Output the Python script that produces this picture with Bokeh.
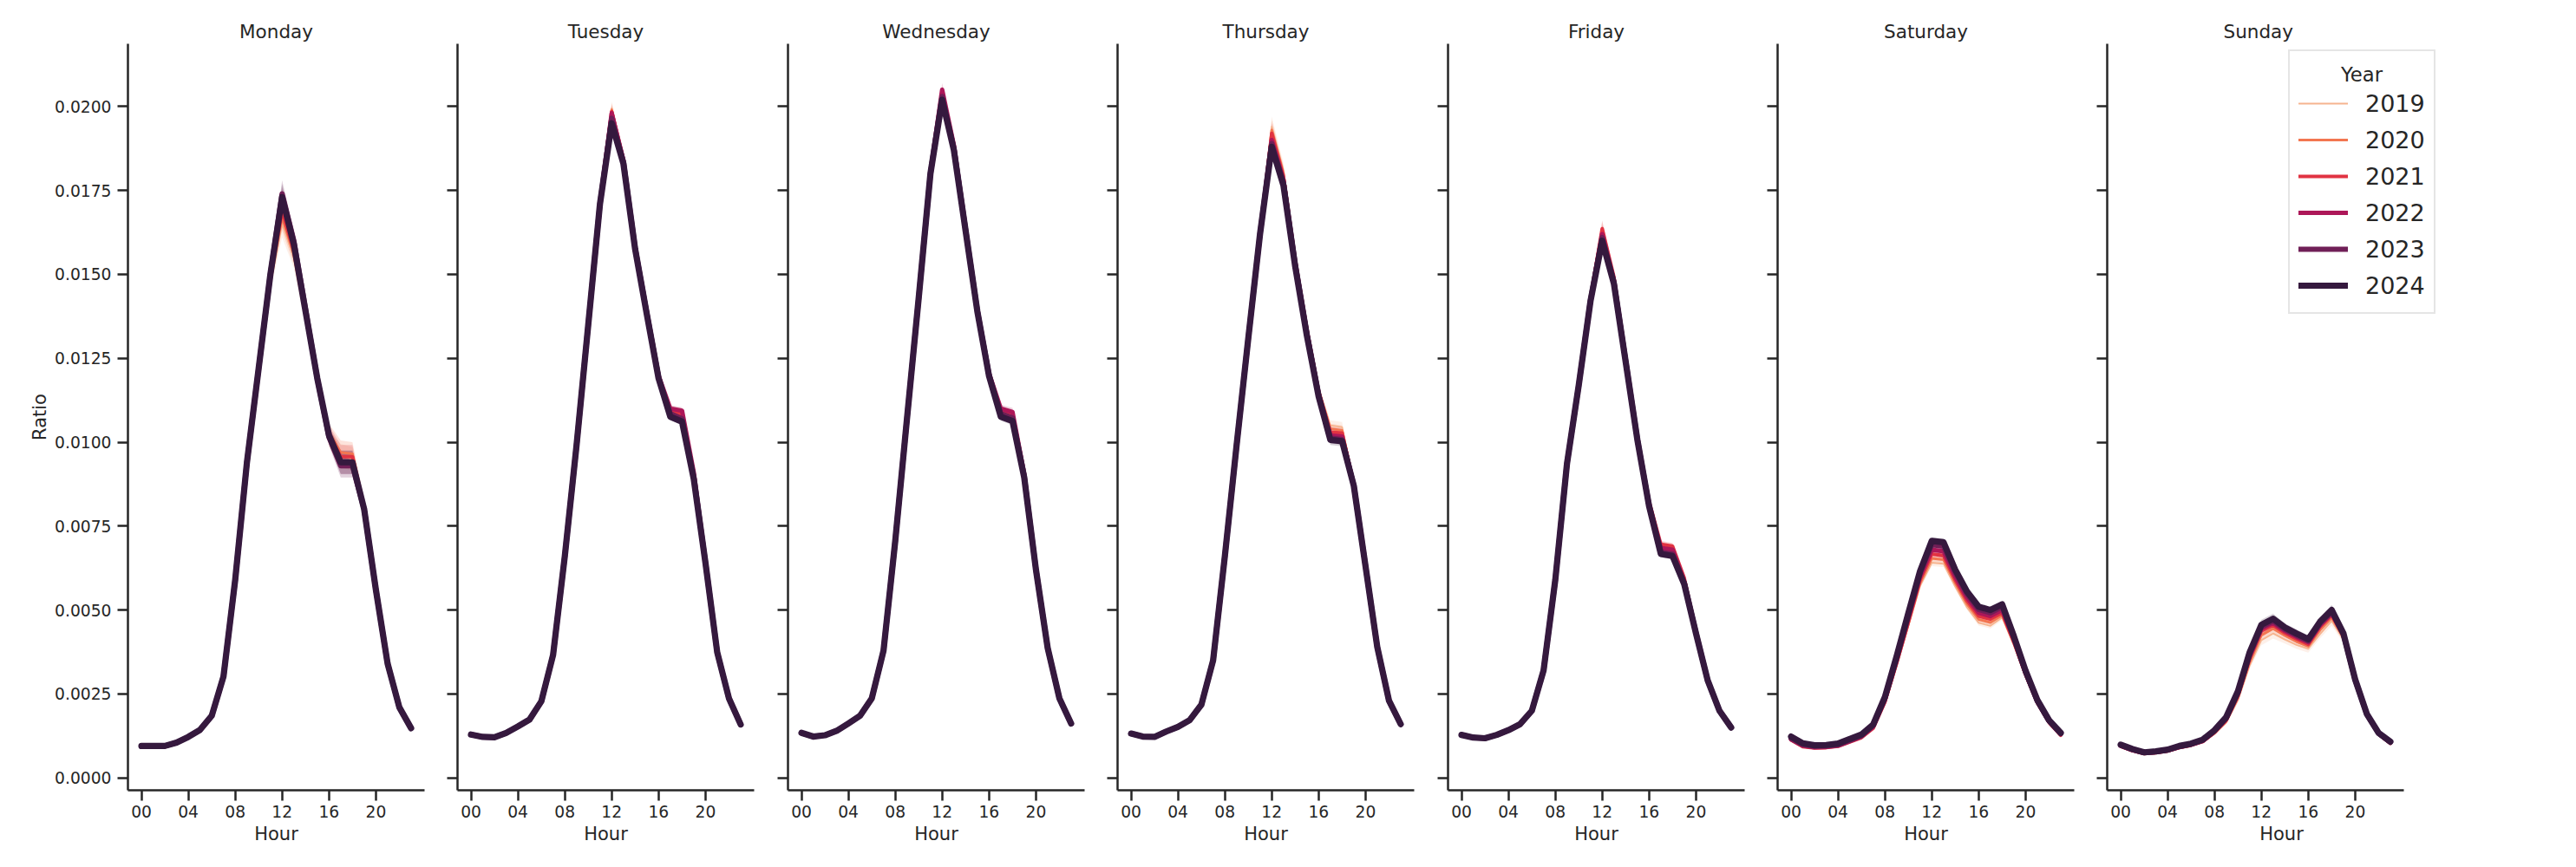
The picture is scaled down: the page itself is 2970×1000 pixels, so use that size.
from bokeh.plotting import figure
from bokeh.layouts import row
from bokeh.models import Range1d, FixedTicker, NumeralTickFormatter, CustomJSTickFormatter, Label
from bokeh.embed import file_html
from bokeh.resources import INLINE

DAYS = ["Monday", "Tuesday", "Wednesday", "Thursday", "Friday", "Saturday", "Sunday"]
YEARS = ["2019", "2020", "2021", "2022", "2023", "2024"]
HOURS = list(range(24))
HOUR_TICKS = [0, 4, 8, 12, 16, 20]
HOUR_LABELS = ["00", "04", "08", "12", "16", "20"]
RATIO_TICKS = [0.0, 0.0025, 0.005, 0.0075, 0.01, 0.0125, 0.015, 0.0175, 0.02]
LEGEND_TITLE = "Year"

# ---------------- Monday ----------------
mon_2019 = [0.00095,0.00095,0.00095,0.00105,0.00122,0.00143,0.00184,0.00298,0.00575,0.00920,0.01200,0.01470,0.01650,0.01550,0.01370,0.01180,0.01010,0.00960,0.00950,0.00805,0.00565,0.00342,0.00210,0.00148]
mon_2020 = [0.00094,0.00094,0.00094,0.00104,0.00121,0.00142,0.00183,0.00297,0.00578,0.00925,0.01205,0.01480,0.01670,0.01560,0.01375,0.01185,0.01030,0.00970,0.00965,0.00810,0.00565,0.00342,0.00210,0.00147]
mon_2021 = [0.00093,0.00093,0.00093,0.00103,0.00120,0.00141,0.00183,0.00298,0.00580,0.00930,0.01210,0.01490,0.01690,0.01570,0.01380,0.01185,0.01025,0.00957,0.00957,0.00805,0.00560,0.00340,0.00208,0.00145]
mon_2022 = [0.00094,0.00094,0.00094,0.00104,0.00121,0.00142,0.00184,0.00300,0.00585,0.00935,0.01215,0.01495,0.01720,0.01590,0.01390,0.01190,0.01020,0.00940,0.00940,0.00800,0.00560,0.00340,0.00210,0.00147]
mon_2023 = [0.00095,0.00095,0.00095,0.00105,0.00122,0.00143,0.00185,0.00302,0.00590,0.00940,0.01220,0.01500,0.01740,0.01600,0.01395,0.01190,0.01015,0.00930,0.00930,0.00800,0.00560,0.00340,0.00210,0.00148]
mon_2024 = [0.00095,0.00095,0.00095,0.00105,0.00122,0.00143,0.00185,0.00302,0.00590,0.00940,0.01220,0.01500,0.01730,0.01590,0.01390,0.01190,0.01020,0.00940,0.00940,0.00800,0.00560,0.00340,0.00210,0.00148]
mon_ci = [0.00002,0.00002,0.00002,0.00002,0.00002,0.00003,0.00004,0.00006,0.00010,0.00012,0.00015,0.00020,0.00040,0.00030,0.00025,0.00020,0.00025,0.00035,0.00035,0.00020,0.00010,0.00006,0.00004,0.00003]

# ---------------- Tuesday ----------------
tue_2019 = [0.00128,0.00121,0.00120,0.00134,0.00155,0.00180,0.00232,0.00366,0.00655,0.00985,0.01350,0.01715,0.01995,0.01850,0.01590,0.01395,0.01205,0.01100,0.01090,0.00905,0.00645,0.00376,0.00238,0.00160]
tue_2020 = [0.00128,0.00121,0.00120,0.00134,0.00154,0.00178,0.00230,0.00365,0.00656,0.00986,0.01350,0.01712,0.01990,0.01845,0.01588,0.01392,0.01200,0.01095,0.01085,0.00900,0.00643,0.00375,0.00238,0.00160]
tue_2021 = [0.00129,0.00122,0.00121,0.00134,0.00154,0.00176,0.00229,0.00366,0.00658,0.00988,0.01350,0.01712,0.01985,0.01842,0.01585,0.01390,0.01198,0.01092,0.01082,0.00900,0.00642,0.00375,0.00237,0.00159]
tue_2022 = [0.00129,0.00122,0.00121,0.00134,0.00153,0.00175,0.00229,0.00366,0.00660,0.00990,0.01352,0.01712,0.01980,0.01840,0.01582,0.01388,0.01198,0.01100,0.01094,0.00910,0.00645,0.00376,0.00238,0.00160]
tue_2023 = [0.00129,0.00122,0.00121,0.00134,0.00153,0.00174,0.00228,0.00366,0.00660,0.00990,0.01350,0.01710,0.01965,0.01835,0.01578,0.01383,0.01193,0.01085,0.01070,0.00895,0.00641,0.00374,0.00237,0.00159]
tue_2024 = [0.00129,0.00122,0.00121,0.00134,0.00153,0.00174,0.00228,0.00366,0.00660,0.00990,0.01350,0.01710,0.01950,0.01830,0.01575,0.01380,0.01190,0.01076,0.01061,0.00890,0.00640,0.00374,0.00237,0.00159]
tue_ci = [0.00002,0.00002,0.00002,0.00002,0.00003,0.00004,0.00004,0.00005,0.00006,0.00008,0.00008,0.00010,0.00020,0.00012,0.00008,0.00008,0.00008,0.00010,0.00010,0.00006,0.00004,0.00003,0.00002,0.00002]

# ---------------- Wednesday ----------------
wed_2019 = [0.00133,0.00122,0.00126,0.00140,0.00163,0.00188,0.00240,0.00380,0.00703,0.01068,0.01430,0.01802,0.02040,0.01885,0.01640,0.01398,0.01205,0.01090,0.01080,0.00902,0.00624,0.00388,0.00238,0.00162]
wed_2020 = [0.00133,0.00122,0.00126,0.00140,0.00163,0.00187,0.00239,0.00380,0.00704,0.01069,0.01430,0.01802,0.02040,0.01882,0.01638,0.01396,0.01203,0.01090,0.01080,0.00900,0.00623,0.00388,0.00238,0.00162]
wed_2021 = [0.00134,0.00123,0.00127,0.00140,0.00163,0.00186,0.00238,0.00380,0.00705,0.01070,0.01430,0.01802,0.02040,0.01880,0.01636,0.01395,0.01202,0.01090,0.01080,0.00900,0.00622,0.00388,0.00238,0.00162]
wed_2022 = [0.00134,0.00123,0.00127,0.00140,0.00162,0.00186,0.00238,0.00380,0.00706,0.01070,0.01432,0.01805,0.02050,0.01885,0.01638,0.01396,0.01205,0.01100,0.01090,0.00905,0.00624,0.00388,0.00238,0.00162]
wed_2023 = [0.00134,0.00123,0.00127,0.00140,0.00162,0.00185,0.00237,0.00379,0.00706,0.01070,0.01430,0.01800,0.02030,0.01875,0.01633,0.01392,0.01200,0.01085,0.01072,0.00898,0.00621,0.00387,0.00237,0.00162]
wed_2024 = [0.00134,0.00123,0.00127,0.00140,0.00162,0.00185,0.00237,0.00379,0.00706,0.01070,0.01430,0.01800,0.02020,0.01870,0.01630,0.01390,0.01197,0.01076,0.01063,0.00895,0.00620,0.00387,0.00237,0.00162]
wed_ci = [0.00002,0.00002,0.00002,0.00002,0.00003,0.00004,0.00004,0.00005,0.00006,0.00008,0.00008,0.00010,0.00020,0.00012,0.00008,0.00008,0.00008,0.00012,0.00012,0.00006,0.00004,0.00003,0.00002,0.00002]

# ---------------- Thursday ----------------
thu_2019 = [0.00131,0.00122,0.00121,0.00137,0.00152,0.00173,0.00220,0.00348,0.00652,0.00982,0.01305,0.01625,0.01940,0.01810,0.01560,0.01350,0.01160,0.01050,0.01045,0.00880,0.00635,0.00392,0.00232,0.00161]
thu_2020 = [0.00131,0.00122,0.00121,0.00137,0.00152,0.00173,0.00219,0.00349,0.00654,0.00984,0.01306,0.01624,0.01930,0.01800,0.01550,0.01342,0.01155,0.01040,0.01035,0.00878,0.00634,0.00391,0.00231,0.00161]
thu_2021 = [0.00132,0.00123,0.00122,0.00138,0.00152,0.00172,0.00219,0.00349,0.00656,0.00986,0.01307,0.01623,0.01920,0.01790,0.01540,0.01335,0.01150,0.01030,0.01027,0.00875,0.00633,0.00391,0.00231,0.00160]
thu_2022 = [0.00132,0.00123,0.00122,0.00138,0.00152,0.00172,0.00218,0.00350,0.00658,0.00988,0.01308,0.01622,0.01900,0.01780,0.01535,0.01328,0.01145,0.01020,0.01017,0.00873,0.00632,0.00390,0.00230,0.00160]
thu_2023 = [0.00132,0.00123,0.00122,0.00138,0.00152,0.00172,0.00218,0.00350,0.00660,0.00990,0.01310,0.01620,0.01890,0.01772,0.01530,0.01322,0.01140,0.01012,0.01008,0.00871,0.00631,0.00390,0.00230,0.00160]
thu_2024 = [0.00132,0.00123,0.00122,0.00138,0.00152,0.00172,0.00218,0.00350,0.00660,0.00990,0.01310,0.01620,0.01880,0.01765,0.01524,0.01317,0.01136,0.01007,0.01003,0.00870,0.00630,0.00390,0.00230,0.00160]
thu_ci = [0.00002,0.00002,0.00002,0.00002,0.00003,0.00004,0.00004,0.00005,0.00006,0.00008,0.00010,0.00012,0.00030,0.00022,0.00015,0.00012,0.00012,0.00015,0.00015,0.00008,0.00005,0.00003,0.00002,0.00002]

# ---------------- Friday ----------------
fri_2019 = [0.00127,0.00120,0.00118,0.00129,0.00143,0.00162,0.00202,0.00318,0.00585,0.00930,0.01168,0.01425,0.01620,0.01485,0.01250,0.01015,0.00820,0.00692,0.00685,0.00590,0.00436,0.00292,0.00201,0.00151]
fri_2020 = [0.00127,0.00120,0.00118,0.00129,0.00143,0.00161,0.00201,0.00319,0.00586,0.00932,0.01170,0.01428,0.01630,0.01490,0.01252,0.01016,0.00822,0.00694,0.00687,0.00592,0.00437,0.00292,0.00201,0.00151]
fri_2021 = [0.00128,0.00120,0.00118,0.00128,0.00142,0.00160,0.00200,0.00319,0.00588,0.00935,0.01172,0.01430,0.01636,0.01492,0.01255,0.01018,0.00824,0.00696,0.00690,0.00595,0.00438,0.00292,0.00201,0.00151]
fri_2022 = [0.00128,0.00120,0.00118,0.00128,0.00142,0.00160,0.00200,0.00320,0.00589,0.00936,0.01170,0.01424,0.01620,0.01482,0.01248,0.01012,0.00815,0.00685,0.00680,0.00585,0.00434,0.00291,0.00200,0.00150]
fri_2023 = [0.00128,0.00120,0.00118,0.00128,0.00142,0.00160,0.00200,0.00320,0.00590,0.00937,0.01170,0.01422,0.01610,0.01476,0.01243,0.01009,0.00811,0.00672,0.00667,0.00580,0.00432,0.00290,0.00200,0.00150]
fri_2024 = [0.00128,0.00120,0.00118,0.00128,0.00142,0.00160,0.00200,0.00320,0.00590,0.00937,0.01170,0.01420,0.01600,0.01472,0.01240,0.01007,0.00809,0.00667,0.00661,0.00577,0.00430,0.00290,0.00200,0.00150]
fri_ci = [0.00002,0.00002,0.00002,0.00002,0.00003,0.00004,0.00004,0.00005,0.00006,0.00008,0.00010,0.00012,0.00025,0.00015,0.00010,0.00008,0.00008,0.00010,0.00010,0.00008,0.00005,0.00003,0.00002,0.00002]

# ---------------- Saturday ----------------
sat_2019 = [0.00117,0.00095,0.00091,0.00092,0.00096,0.00109,0.00122,0.00148,0.00222,0.00334,0.00452,0.00572,0.00641,0.00638,0.00570,0.00508,0.00462,0.00453,0.00478,0.00396,0.00303,0.00221,0.00165,0.00129]
sat_2020 = [0.00115,0.00094,0.00090,0.00091,0.00095,0.00108,0.00121,0.00148,0.00224,0.00338,0.00458,0.00580,0.00654,0.00650,0.00580,0.00518,0.00472,0.00463,0.00485,0.00400,0.00305,0.00222,0.00165,0.00128]
sat_2021 = [0.00113,0.00093,0.00089,0.00090,0.00094,0.00107,0.00120,0.00148,0.00226,0.00342,0.00465,0.00590,0.00667,0.00662,0.00590,0.00528,0.00482,0.00473,0.00492,0.00405,0.00308,0.00224,0.00165,0.00127]
sat_2022 = [0.00115,0.00096,0.00091,0.00092,0.00096,0.00109,0.00123,0.00152,0.00232,0.00350,0.00475,0.00600,0.00680,0.00675,0.00600,0.00538,0.00492,0.00482,0.00500,0.00412,0.00312,0.00227,0.00168,0.00130]
sat_2023 = [0.00118,0.00099,0.00094,0.00095,0.00099,0.00112,0.00126,0.00156,0.00238,0.00358,0.00485,0.00610,0.00695,0.00690,0.00612,0.00548,0.00502,0.00492,0.00510,0.00418,0.00316,0.00230,0.00170,0.00132]
sat_2024 = [0.00123,0.00103,0.00097,0.00098,0.00102,0.00116,0.00129,0.00159,0.00241,0.00362,0.00491,0.00616,0.00706,0.00702,0.00620,0.00555,0.00510,0.00500,0.00517,0.00422,0.00319,0.00232,0.00172,0.00134]
sat_ci = [0.00003,0.00003,0.00003,0.00003,0.00003,0.00003,0.00003,0.00004,0.00005,0.00006,0.00007,0.00008,0.00010,0.00010,0.00008,0.00008,0.00008,0.00008,0.00008,0.00006,0.00005,0.00004,0.00003,0.00003]

# ---------------- Sunday ----------------
sun_2019 = [0.00096,0.00083,0.00074,0.00077,0.00082,0.00091,0.00098,0.00108,0.00132,0.00165,0.00232,0.00335,0.00410,0.00430,0.00412,0.00396,0.00385,0.00428,0.00468,0.00412,0.00285,0.00186,0.00131,0.00104]
sun_2020 = [0.00095,0.00082,0.00073,0.00076,0.00081,0.00090,0.00097,0.00108,0.00133,0.00168,0.00238,0.00345,0.00425,0.00445,0.00424,0.00406,0.00392,0.00440,0.00478,0.00418,0.00287,0.00186,0.00131,0.00104]
sun_2021 = [0.00094,0.00081,0.00072,0.00075,0.00080,0.00090,0.00097,0.00108,0.00135,0.00172,0.00245,0.00355,0.00438,0.00455,0.00432,0.00414,0.00398,0.00450,0.00486,0.00422,0.00288,0.00186,0.00130,0.00103]
sun_2022 = [0.00096,0.00083,0.00074,0.00077,0.00082,0.00092,0.00099,0.00110,0.00138,0.00175,0.00250,0.00362,0.00444,0.00462,0.00438,0.00420,0.00404,0.00455,0.00490,0.00425,0.00290,0.00188,0.00132,0.00105]
sun_2023 = [0.00097,0.00084,0.00075,0.00078,0.00083,0.00093,0.00100,0.00112,0.00140,0.00178,0.00254,0.00368,0.00450,0.00468,0.00443,0.00425,0.00408,0.00460,0.00495,0.00428,0.00292,0.00189,0.00133,0.00106]
sun_2024 = [0.00099,0.00086,0.00076,0.00079,0.00084,0.00095,0.00102,0.00114,0.00142,0.00181,0.00258,0.00374,0.00456,0.00474,0.00448,0.00430,0.00413,0.00465,0.00500,0.00430,0.00293,0.00190,0.00134,0.00108]
sun_ci = [0.00003,0.00003,0.00003,0.00003,0.00003,0.00003,0.00003,0.00004,0.00005,0.00006,0.00008,0.00010,0.00015,0.00015,0.00012,0.00012,0.00012,0.00012,0.00015,0.00010,0.00006,0.00004,0.00003,0.00003]

SERIES = {
    "Monday": [mon_2019, mon_2020, mon_2021, mon_2022, mon_2023, mon_2024],
    "Tuesday": [tue_2019, tue_2020, tue_2021, tue_2022, tue_2023, tue_2024],
    "Wednesday": [wed_2019, wed_2020, wed_2021, wed_2022, wed_2023, wed_2024],
    "Thursday": [thu_2019, thu_2020, thu_2021, thu_2022, thu_2023, thu_2024],
    "Friday": [fri_2019, fri_2020, fri_2021, fri_2022, fri_2023, fri_2024],
    "Saturday": [sat_2019, sat_2020, sat_2021, sat_2022, sat_2023, sat_2024],
    "Sunday": [sun_2019, sun_2020, sun_2021, sun_2022, sun_2023, sun_2024],
}
CI = {"Monday": mon_ci, "Tuesday": tue_ci, "Wednesday": wed_ci, "Thursday": thu_ci,
      "Friday": fri_ci, "Saturday": sat_ci, "Sunday": sun_ci}

COLORS = ["#f6b48f", "#f37651", "#e13342", "#ad1759", "#701f57", "#35193e"]
WIDTHS = [1.9, 3.0, 4.1, 5.1, 6.1, 7.2]
INK = "#262626"
FONT = "DejaVu Sans"

X_START, X_END = -1.15, 24.15
PX_PER_HOUR = 342 / (X_END - X_START)
EXTRA_RIGHT = 60  # room inside the last frame for the legend box

LEFT_BORDERS = [147, 19, 19, 19, 19, 19, 19]
RIGHT_BORDERS = [19, 20, 19, 20, 19, 19, 0]

LEG_X, LEG_Y, LEG_W = 209, 549, 169

figs = []
for i, day in enumerate(DAYS):
    last = day == "Sunday"
    fw = 342 + (EXTRA_RIGHT if last else 0)
    x_end = X_END + (EXTRA_RIGHT / PX_PER_HOUR if last else 0)
    p = figure(frame_width=fw, frame_height=861,
               x_range=Range1d(X_START, x_end), y_range=Range1d(-0.00037, 0.02187),
               output_backend="svg", toolbar_location=None, title=day,
               min_border_left=LEFT_BORDERS[i], min_border_right=RIGHT_BORDERS[i],
               min_border_top=50, min_border_bottom=60)
    p.outline_line_color = None
    p.background_fill_color = "white"
    p.border_fill_color = "white"
    p.xgrid.visible = False
    p.ygrid.visible = False

    if last:
        p.title.align = "left"
        p.title.offset = 171 - 37
    else:
        p.title.align = "center"
        p.title.offset = 0
    p.title.text_font = FONT
    p.title.text_font_size = "21.5px"
    p.title.text_font_style = "normal"
    p.title.text_color = INK
    p.title.standoff = 4

    ci = CI[day]
    for y_idx, year in enumerate(YEARS):
        vals = SERIES[day][y_idx]
        lo = [v - c for v, c in zip(vals, ci)]
        hi = [v + c for v, c in zip(vals, ci)]
        p.varea(x=HOURS, y1=lo, y2=hi, fill_color=COLORS[y_idx], fill_alpha=0.2)
    for y_idx, year in enumerate(YEARS):
        vals = SERIES[day][y_idx]
        kw = dict(line_color=COLORS[y_idx], line_width=WIDTHS[y_idx],
                  line_join="round", line_cap="round")
        if last:
            kw["legend_label"] = year
        p.line(HOURS, vals, **kw)

    for ax in (p.xaxis[0], p.yaxis[0]):
        ax.axis_line_color = INK
        ax.axis_line_width = 2.5
        ax.major_tick_line_color = INK
        ax.major_tick_line_width = 2.5
        ax.major_tick_out = 12
        ax.major_tick_in = 0
        ax.minor_tick_line_color = None
        ax.major_label_text_font = FONT
        ax.major_label_text_font_size = "18.7px"
        ax.major_label_text_color = INK
        ax.axis_label_text_font = FONT
        ax.axis_label_text_font_size = "21px"
        ax.axis_label_text_font_style = "normal"
        ax.axis_label_text_color = INK

    p.xaxis.ticker = FixedTicker(ticks=HOUR_TICKS)
    p.xaxis.major_label_overrides = {t: l for t, l in zip(HOUR_TICKS, HOUR_LABELS)}
    p.xaxis.major_label_standoff = 5
    p.xaxis.axis_label = "Hour"
    p.xaxis.axis_label_standoff = 4
    p.xaxis.bounds = (X_START, X_END)

    p.yaxis.ticker = FixedTicker(ticks=RATIO_TICKS)
    if i == 0:
        p.yaxis.formatter = NumeralTickFormatter(format="0.0000")
        p.yaxis.axis_label = "Ratio"
        p.yaxis.major_label_standoff = 7
        p.yaxis.axis_label_standoff = 2
    else:
        p.yaxis.formatter = CustomJSTickFormatter(code="return ''")
        p.yaxis.major_label_standoff = 0

    if last:
        lg = p.legend[0]
        lg.title = "\u00a0"  # reserves the title row; the centred title is drawn below
        lg.title_text_font = FONT
        lg.title_text_font_size = "22.7px"
        lg.title_text_font_style = "normal"
        lg.title_text_color = INK
        lg.title_standoff = 3
        lg.label_text_font = FONT
        lg.label_text_font_size = "27px"
        lg.label_text_color = INK
        lg.glyph_width = 57
        lg.glyph_height = 42
        lg.label_height = 42
        lg.label_standoff = 20
        lg.spacing = 0
        lg.padding = 10
        lg.margin = 0
        lg.border_line_color = "#cccccc"
        lg.border_line_width = 2
        lg.background_fill_color = "white"
        lg.background_fill_alpha = 0.0
        lg.location = (LEG_X, LEG_Y)
        p.add_layout(Label(x=LEG_X + LEG_W / 2, y=861 - 85.7 + 50, x_units="screen", y_units="screen",
                           text=LEGEND_TITLE, text_align="center", text_baseline="middle",
                           text_font=FONT, text_font_size="22.7px", text_color=INK,
                           level="overlay"))
    figs.append(p)

layout = row(*figs, spacing=0)
open("out.html", "w").write(file_html(layout, INLINE))
